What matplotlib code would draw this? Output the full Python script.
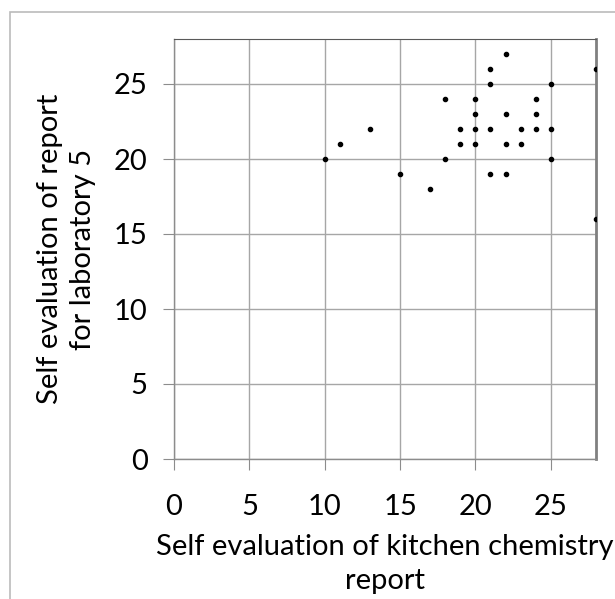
import matplotlib
matplotlib.use("Agg")
import matplotlib.pyplot as plt
from matplotlib.patches import Rectangle

x_vals = [10, 11, 13, 15, 17, 18, 18, 19, 19, 20, 20, 20, 20, 21, 21, 21, 21,
          22, 22, 22, 22, 23, 23, 24, 24, 24, 25, 25, 25, 28, 28]
y_vals = [20, 21, 22, 19, 18, 24, 20, 22, 21, 24, 23, 22, 21, 26, 25, 22, 19,
          27, 23, 21, 19, 22, 21, 24, 23, 22, 25, 22, 20, 26, 16]
ticks = [0, 5, 10, 15, 20, 25]

plt.rcParams['font.family'] = ['Lato', 'DejaVu Sans']

fig = plt.figure(figsize=(6.15, 5.99), dpi=100)
fig.patches.append(Rectangle((10/615, -0.1), 1.2, (599-12)/599 + 0.1,
                             transform=fig.transFigure, fill=False,
                             edgecolor='#bbbbbb', linewidth=1.2))
ax = fig.add_axes([174/615, 1 - 459/599, (596-174)/615, (459-39)/599])
ax.scatter(x_vals, y_vals, s=9, color='black', zorder=3)
ax.set_xlim(0, 28)
ax.set_ylim(0, 28)
ax.set_xticks(ticks)
ax.set_yticks(ticks)
ax.grid(True, color='#a6a6a6', linewidth=1.0)
ax.set_axisbelow(True)
for s in ['left', 'bottom']:
    ax.spines[s].set_color('#8c8c8c')
    ax.spines[s].set_linewidth(1.0)
ax.spines['top'].set_color('#595959')
ax.spines['right'].set_color('#808080')
ax.spines['right'].set_linewidth(2)
ax.tick_params(axis='x', direction='out', length=8, color='#8c8c8c', pad=17,
               labelsize=21)
ax.tick_params(axis='y', direction='out', length=8, color='#8c8c8c', pad=11,
               labelsize=21)
ax.set_xlabel('Self evaluation of kitchen chemistry\nreport', fontsize=21,
              labelpad=10, linespacing=1.4)
ax.set_ylabel('Self evaluation of report\nfor laboratory 5', fontsize=21,
              labelpad=13, linespacing=1.3)
fig.savefig('out.png', dpi=100)
